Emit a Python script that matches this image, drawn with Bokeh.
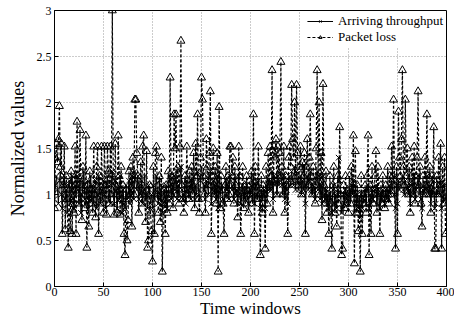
import numpy as np
from bokeh.plotting import figure
from bokeh.models import ColumnDataSource, Range1d, FixedTicker, Legend, LegendItem
from bokeh.embed import file_html
from bokeh.resources import INLINE

x_ticks = [0, 50, 100, 150, 200, 250, 300, 350, 400]
y_ticks = [0, 0.5, 1, 1.5, 2, 2.5, 3]

packet_loss = [
    0.85,1.40,1.55,1.35,1.60,1.96,1.30,1.55,0.57,1.10,1.52,0.62,1.20,0.95,0.42,1.05,0.60,1.25,0.57,1.15,
    0.80,1.52,0.57,1.79,1.20,0.90,1.70,1.10,0.72,1.30,1.00,0.85,1.64,0.42,1.10,0.65,1.25,0.90,1.05,0.80,
    1.52,1.00,0.75,1.30,1.52,0.57,1.20,0.90,1.52,1.05,0.80,1.52,1.10,0.78,1.52,1.25,0.90,1.52,1.00,3.00,
    1.15,0.78,1.55,1.00,0.80,1.64,1.20,0.78,1.30,0.95,1.10,0.57,0.34,1.05,0.50,0.72,1.25,1.00,1.30,0.65,
    1.40,1.00,2.03,2.03,1.45,1.20,0.80,1.10,1.35,0.90,1.52,1.64,1.00,0.70,1.47,0.42,0.50,1.10,0.80,0.60,
    0.27,1.30,0.57,1.45,1.52,1.00,0.80,1.20,0.70,1.40,0.16,0.90,1.05,0.57,1.10,0.80,1.25,0.90,2.27,1.00,
    1.20,0.85,1.87,1.50,1.87,1.00,1.30,0.90,1.52,2.67,1.10,0.95,0.80,1.20,1.00,1.52,1.15,0.95,1.25,1.05,
    1.30,1.00,1.45,0.85,1.55,1.20,1.87,0.95,0.80,1.40,2.27,2.03,1.20,1.00,0.80,1.60,1.30,1.10,1.45,2.12,
    0.57,1.20,1.50,1.00,1.30,0.90,1.45,0.16,1.95,0.85,1.20,1.05,0.90,0.57,1.10,1.30,0.95,1.20,1.00,1.52,
    1.52,1.20,1.40,0.90,1.30,1.10,1.00,0.75,1.52,1.20,0.57,1.00,1.30,0.85,1.10,0.90,1.20,1.00,0.80,1.15,
    1.00,1.25,0.90,1.87,0.57,1.30,1.10,0.95,1.52,1.00,0.34,1.20,0.80,1.10,1.00,0.41,1.30,0.90,1.45,1.10,
    1.52,1.20,2.35,0.80,1.52,1.40,1.60,1.00,1.52,1.20,1.45,2.44,1.30,1.00,1.52,0.80,1.20,1.10,0.57,1.40,
    1.52,1.30,2.19,1.60,1.40,2.00,1.20,2.19,1.45,1.10,1.30,1.52,1.00,1.35,1.20,1.45,0.57,1.30,1.60,1.10,
    1.40,1.87,1.20,1.00,1.30,1.10,0.90,1.50,2.35,1.20,2.00,1.00,1.45,0.72,2.20,1.10,0.90,1.25,0.80,1.00,
    0.57,1.20,0.90,0.41,1.10,1.30,0.80,1.00,0.65,1.20,0.90,1.73,1.00,0.34,0.41,1.10,0.85,1.20,0.90,1.05,
    0.80,1.20,0.90,1.30,1.00,1.64,0.25,1.47,0.80,1.10,0.60,1.00,0.16,1.20,0.57,1.00,0.90,1.10,0.80,1.20,
    1.64,0.34,1.10,0.57,1.30,0.90,1.00,1.20,1.47,0.80,1.30,1.00,0.57,1.10,0.90,1.20,1.00,0.85,1.10,0.95,
    1.30,0.90,1.20,1.00,1.52,1.20,2.03,1.10,0.41,1.30,0.57,1.90,1.40,1.20,1.60,2.35,1.30,1.10,2.03,1.20,
    1.50,1.00,1.30,0.80,1.20,1.40,1.00,1.52,0.90,1.20,1.40,2.12,1.10,1.30,0.90,0.65,1.20,1.00,1.40,1.10,
    1.87,1.20,1.00,1.30,0.80,1.20,1.00,1.73,0.41,0.41,1.20,1.00,1.40,1.10,1.55,0.41,1.30,0.90,1.40,0.57,
]

throughput = [
    0.95,1.10,1.20,1.05,0.90,1.15,1.25,1.00,0.85,1.10,1.20,0.95,1.05,0.80,1.10,1.15,0.90,1.05,1.20,0.95,
    0.85,1.10,1.00,1.20,1.05,0.90,1.15,0.80,1.00,1.10,1.25,0.95,0.90,1.05,1.15,0.85,1.00,1.20,0.95,1.10,
    0.90,1.05,1.15,0.85,1.00,1.20,1.10,0.90,1.05,0.95,1.15,1.00,0.85,1.10,1.20,0.95,1.05,0.90,1.10,1.25,
    1.00,0.90,1.15,1.05,0.85,1.10,0.95,1.20,1.00,0.80,1.05,0.90,0.85,1.10,0.95,1.00,1.15,0.90,1.05,1.20,
    1.10,0.95,1.25,1.15,1.05,1.20,0.95,1.10,1.00,1.15,0.90,1.05,1.20,0.95,1.00,0.85,1.10,1.05,0.90,1.00,
    0.85,1.10,0.95,1.05,1.20,1.00,0.90,1.15,0.95,1.10,0.80,1.00,1.05,0.90,1.10,0.85,1.00,1.15,1.20,0.95,
    1.10,1.00,1.20,1.05,1.25,0.95,1.10,1.00,1.15,1.30,1.05,0.95,1.00,1.10,0.90,1.15,1.05,1.00,1.10,0.95,
    1.15,1.05,1.20,0.95,1.10,1.00,1.25,1.05,0.95,1.15,1.30,1.20,1.05,1.10,0.95,1.15,1.10,1.00,1.20,1.25,
    0.90,1.05,1.15,1.00,1.10,0.95,1.20,0.85,1.25,1.00,1.05,1.10,0.95,0.90,1.00,1.15,1.05,1.10,0.95,1.20,
    1.15,1.05,1.10,0.95,1.15,1.00,1.05,0.90,1.20,1.05,0.90,1.00,1.10,0.95,1.05,1.00,1.10,0.95,0.90,1.05,
    1.00,1.10,0.95,1.20,0.90,1.10,1.00,0.95,1.15,1.00,0.85,1.05,0.95,1.00,1.05,0.85,1.10,1.00,1.15,1.05,
    1.15,1.05,1.25,0.95,1.20,1.10,1.15,1.00,1.20,1.10,1.15,1.25,1.10,1.00,1.20,0.95,1.10,1.05,0.90,1.15,
    1.20,1.10,1.25,1.15,1.10,1.30,1.05,1.25,1.15,1.05,1.10,1.20,1.00,1.15,1.05,1.30,0.90,1.10,1.20,1.05,
    1.15,1.25,1.05,1.00,1.10,1.05,0.95,1.15,1.25,1.05,1.20,0.95,1.10,0.90,1.20,1.00,0.95,1.05,0.90,1.00,
    0.85,1.00,0.95,0.80,1.05,1.10,0.90,1.00,0.85,1.05,1.40,1.15,1.00,0.80,0.85,1.00,0.90,1.05,0.95,1.00,
    0.90,1.05,0.95,1.10,1.00,1.15,0.80,1.10,0.90,1.00,0.85,0.95,0.75,1.00,0.85,0.95,1.00,1.05,0.90,1.05,
    1.10,0.85,1.00,0.90,1.05,0.95,1.00,1.05,1.10,0.90,1.05,1.00,0.85,1.00,0.95,1.05,1.00,0.90,1.05,0.95,
    1.05,0.95,1.10,1.00,1.15,1.05,1.20,1.00,0.85,1.10,0.90,1.15,1.05,1.10,1.15,1.20,1.05,1.00,1.15,1.05,
    1.10,1.00,1.05,0.90,1.10,1.15,1.00,1.20,0.95,1.05,1.10,1.20,1.00,1.10,0.95,0.85,1.05,1.00,1.10,1.05,
    1.20,1.05,1.00,1.10,0.90,1.05,1.00,1.15,0.85,0.90,1.05,1.00,1.10,1.00,1.15,0.85,1.10,0.95,1.10,0.95,
]

time_windows = list(range(len(packet_loss)))

FONT = "Liberation Serif"

p = figure(width=454, height=320, output_backend="svg", toolbar_location=None,
           x_range=Range1d(0, 400), y_range=Range1d(0, 3),
           min_border_left=54, min_border_right=8, min_border_top=10, min_border_bottom=32)
p.background_fill_color = "white"
p.border_fill_color = "white"
p.outline_line_color = "black"
p.outline_line_width = 1

src = ColumnDataSource(dict(x=time_windows, tp=throughput, pl=packet_loss))

r_tp_line = p.line("x", "tp", source=src, line_color="black", line_width=1)
r_tp_mark = p.scatter("x", "tp", source=src, marker="x", size=8, line_color="black", line_width=1)
r_pl_line = p.line("x", "pl", source=src, line_color="black", line_width=1.2, line_dash="3 2")
r_pl_mark = p.scatter("x", "pl", source=src, marker="triangle", size=8, line_color="black",
                      fill_color="white", fill_alpha=0.0, line_width=1)

for ax in (p.xaxis[0], p.yaxis[0]):
    ax.major_label_text_font = FONT
    ax.major_label_text_font_size = "12px"
    ax.major_label_text_color = "black"
    ax.axis_label_text_font = FONT
    ax.axis_label_text_font_style = "normal"
    ax.axis_label_text_color = "black"
    ax.axis_line_color = "black"
    ax.major_tick_in = 4
    ax.major_tick_out = 0
    ax.minor_tick_line_color = None

p.xaxis[0].axis_label_text_font_size = "17px"
p.yaxis[0].axis_label_text_font_size = "18px"
p.xaxis[0].major_label_standoff = 1
p.yaxis[0].major_label_standoff = 3
p.xaxis[0].axis_label_standoff = 0
p.yaxis[0].axis_label_standoff = 6
p.xaxis[0].ticker = FixedTicker(ticks=x_ticks)
p.yaxis[0].ticker = FixedTicker(ticks=y_ticks)
p.xaxis[0].axis_label = "Time windows"
p.yaxis[0].axis_label = "Normalized values"

p.xgrid.ticker = FixedTicker(ticks=x_ticks)
p.ygrid.ticker = FixedTicker(ticks=y_ticks)
for g in (p.xgrid[0], p.ygrid[0]):
    g.grid_line_color = "#999999"
    g.grid_line_dash = "1 2"
    g.grid_line_width = 1

legend = Legend(items=[
    LegendItem(label="Arriving throughput", renderers=[r_tp_line, r_tp_mark]),
    LegendItem(label="Packet loss", renderers=[r_pl_line, r_pl_mark]),
], location="top_right")
legend.label_text_font = FONT
legend.label_text_font_size = "13px"
legend.label_text_color = "black"
legend.label_height = 8
legend.glyph_height = 8
legend.glyph_width = 26
legend.spacing = 0
legend.padding = 2
legend.margin = 1
legend.border_line_alpha = 0
legend.background_fill_alpha = 1.0
legend.background_fill_color = "white"
p.add_layout(legend)

open("out.html", "w").write(file_html(p, INLINE))
